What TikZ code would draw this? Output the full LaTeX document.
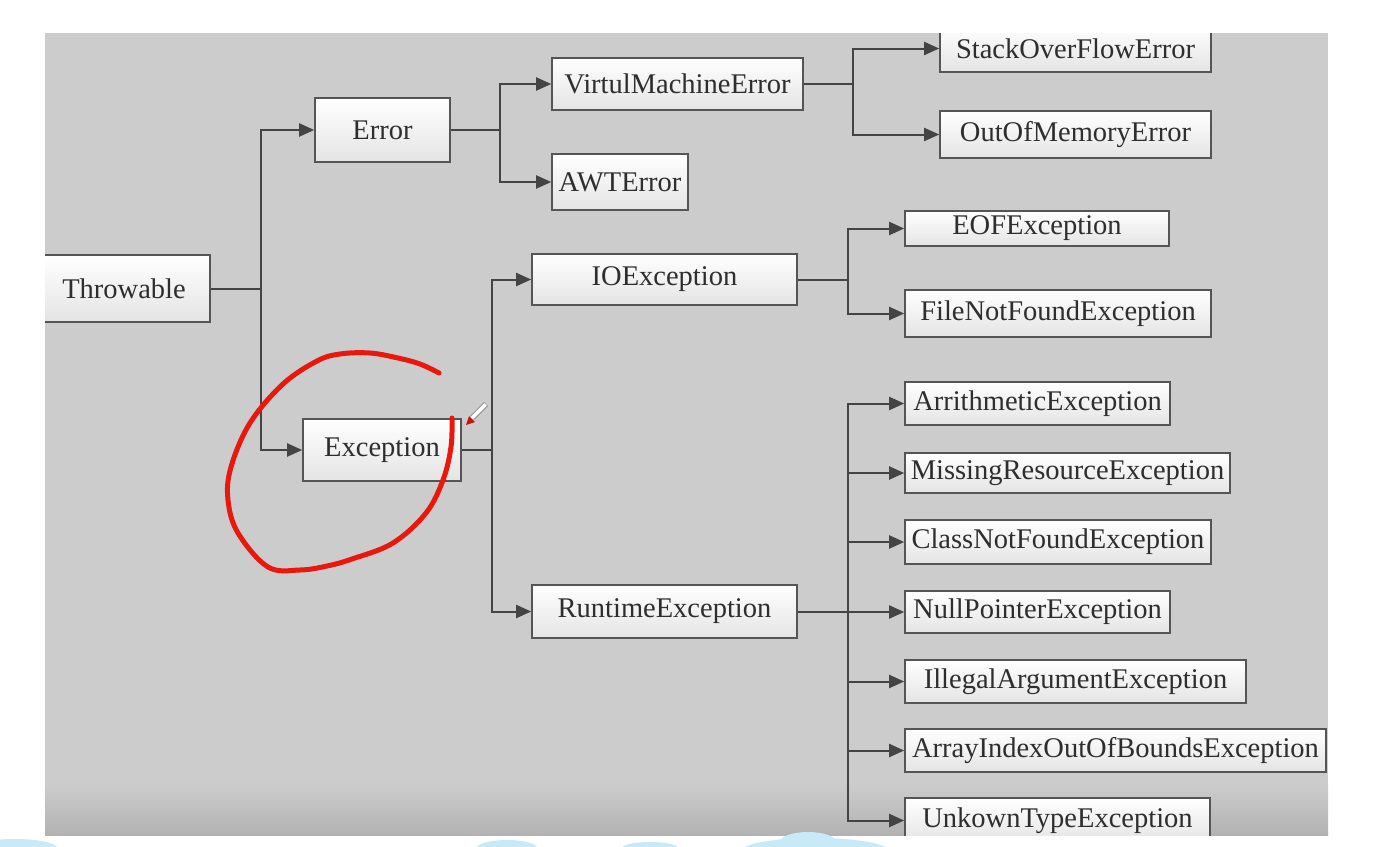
\documentclass[tikz,border=0pt]{standalone}
\usepackage{fontspec}
\setmainfont{Liberation Serif}
\usetikzlibrary{arrows.meta}
\definecolor{bg}{HTML}{CCCCCC}
\definecolor{bgdark}{HTML}{B2B2B2}
\definecolor{linec}{HTML}{444444}
\definecolor{boxline}{HTML}{555555}
\definecolor{boxbot}{HTML}{E4E4E4}
\definecolor{txt}{HTML}{2E2E2E}
\definecolor{pen}{HTML}{E8180C}
\definecolor{blob}{HTML}{C8EAF7}
\tikzset{
  cls/.style={draw=boxline, line width=1.6pt, top color=white, bottom color=boxbot,
    inner sep=0pt, text=txt, font=\fontsize{28.5}{31}\selectfont},
  conn/.style={draw=linec, line width=2pt},
  arr/.style={conn, -{Triangle[length=15pt,width=13pt]}},
}
\begin{document}
\begin{tikzpicture}[x=1pt,y=-1pt]
\useasboundingbox (0,0) rectangle (1397,846);
\fill[white] (0,0) rectangle (1397,846);
\fill[bg] (45,33) rectangle (1328,835);
\shade[top color=bg, bottom color=bgdark] (45,785) rectangle (1328,835);
\begin{scope}
\clip (45,33) rectangle (1328,835);
% nodes
\node[cls, minimum width=172pt, minimum height=67pt] (thr) at (124,288.5) {Throwable};
\node[cls, minimum width=135pt, minimum height=64pt] (err) at (382.5,130) {Error};
\node[cls, minimum width=251pt, minimum height=52pt] (vme) at (677.5,84) {VirtulMachineError};
\node[cls, minimum width=136pt, minimum height=56pt] (awt) at (620,182) {AWTError};
\node[cls, minimum width=271pt, minimum height=47pt] (sof) at (1075.5,48.5) {StackOverFlowError};
\node[cls, minimum width=271pt, minimum height=47pt] (oom) at (1075.5,134.5) {OutOfMemoryError};
\node[cls, minimum width=158pt, minimum height=62pt] (exc) at (382,450) {Exception};
\node[cls, minimum width=265pt, minimum height=51pt] (ioe) at (664.5,279.5) {IOException};
\node[cls, minimum width=265pt, minimum height=53pt] (rte) at (664.5,611.5) {RuntimeException};
\node[cls, minimum width=264pt, minimum height=35pt] (eof) at (1037,228.5) {EOFException};
\node[cls, minimum width=306pt, minimum height=47pt] (fnf) at (1058,313.5) {FileNotFoundException};
\node[cls, minimum width=265pt, minimum height=43pt] (ari) at (1037.5,403.5) {ArrithmeticException};
\node[cls, minimum width=325pt, minimum height=40pt] (mis) at (1067.5,473) {MissingResourceException};
\node[cls, minimum width=306pt, minimum height=44pt] (cnf) at (1058,542) {ClassNotFoundException};
\node[cls, minimum width=265pt, minimum height=42pt] (npe) at (1037.5,612) {NullPointerException};
\node[cls, minimum width=341pt, minimum height=43pt] (iae) at (1075.5,681.5) {IllegalArgumentException};
\node[cls, minimum width=421pt, minimum height=43pt] (aio) at (1115.5,750.5) {ArrayIndexOutOfBoundsException};
\node[cls, minimum width=305pt, minimum height=45pt] (ute) at (1057.5,820.5) {UnkownTypeException};
% connectors
\draw[conn] (thr.east) -- (261,288.5) coordinate (j1);
\draw[arr] (j1) |- (err.west);
\draw[arr] (j1) |- (exc.west);
\draw[conn] (err.east) -- (500,130) coordinate (j2);
\draw[arr] (j2) |- (vme.west);
\draw[arr] (j2) |- (awt.west);
\draw[conn] (vme.east) -- (853,84) coordinate (j3);
\draw[arr] (j3) |- (sof.west);
\draw[arr] (j3) |- (oom.west);
\draw[conn] (exc.east) -- (492,450) coordinate (j4);
\draw[arr] (j4) |- (ioe.west);
\draw[arr] (j4) |- (rte.west);
\draw[conn] (ioe.east) -- (848,279.5) coordinate (j5);
\draw[arr] (j5) |- (eof.west);
\draw[arr] (j5) |- (fnf.west);
\draw[conn] (rte.east) -- (848,611.5) coordinate (j6);
\foreach \t in {ari,mis,cnf,npe,iae,aio,ute}{
  \draw[arr] (j6) |- (\t.west);
}
% red hand-drawn circle
\draw[pen, line width=5pt, line cap=round, line join=round]
  plot[smooth, tension=0.6] coordinates {(439,373) (420,364) (398,358) (370,353) (340,354) (317,361) (283,384) (250,423) (231,467) (228,500) (238,533) (268,567) (300,570) (327,566) (352,559) (393,543) (426,513) (443,480) (451,447) (452,418)};
% pen cursor
\draw[line width=6pt, gray!75] (472,418) -- (486,404);
\draw[line width=3.5pt, white] (472,418) -- (485.5,404.5);
\fill[pen!85!black] (466,425) -- (469,416) -- (475,422) -- cycle;
\end{scope}
% light blue blobs at the bottom
\fill[blob] (15,848) ellipse [x radius=42pt, y radius=9pt];
\fill[blob] (507,848) ellipse [x radius=30pt, y radius=8pt];
\fill[blob] (650,848) ellipse [x radius=28pt, y radius=6pt];
\fill[blob] (815,850) ellipse [x radius=72pt, y radius=12pt];
\fill[blob] (808,842) ellipse [x radius=28pt, y radius=10pt];
\end{tikzpicture}
\end{document}
